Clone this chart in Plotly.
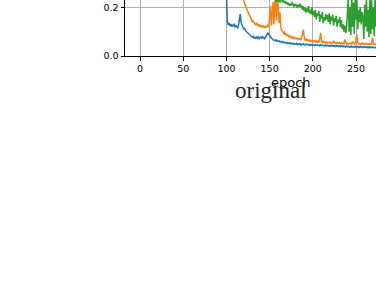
import plotly.graph_objects as go

# ---- data ----
blue_start = 99
blue_vals = [
    0.40, 0.22, 0.14, 0.128, 0.136, 0.124, 0.131, 0.12, 0.128, 0.122,
    0.133, 0.118, 0.126, 0.12, 0.114, 0.128, 0.15, 0.172, 0.138, 0.122,
    0.118, 0.112, 0.114, 0.104, 0.1, 0.097, 0.092, 0.09, 0.086, 0.082,
    0.08, 0.077, 0.081, 0.074, 0.077, 0.072, 0.078, 0.073, 0.08, 0.071,
    0.075, 0.078, 0.072, 0.079, 0.075, 0.071, 0.077, 0.082, 0.088, 0.094,
    0.089, 0.083, 0.077, 0.072, 0.07, 0.067, 0.066, 0.063, 0.066, 0.061,
    0.064, 0.06, 0.062, 0.058, 0.06, 0.056, 0.059, 0.055, 0.057, 0.054,
    0.056, 0.052, 0.055, 0.051, 0.054, 0.05, 0.053, 0.05, 0.052, 0.048,
    0.051, 0.049, 0.052, 0.047, 0.05, 0.048, 0.051, 0.046, 0.049, 0.047,
    0.05, 0.046, 0.048, 0.045, 0.049, 0.046, 0.047, 0.044, 0.048, 0.045,
    0.047, 0.044, 0.046, 0.043, 0.047, 0.044, 0.046, 0.043, 0.045, 0.042,
    0.046, 0.043, 0.045, 0.042, 0.044, 0.041, 0.045, 0.042, 0.044, 0.041,
    0.043, 0.04, 0.044, 0.041, 0.043, 0.04, 0.042, 0.039, 0.043, 0.04,
    0.042, 0.039, 0.041, 0.038, 0.042, 0.039, 0.041, 0.038, 0.04, 0.037,
    0.041, 0.038, 0.04, 0.037, 0.039, 0.036, 0.04, 0.037, 0.039, 0.036,
    0.04, 0.037, 0.039, 0.036, 0.038, 0.035, 0.039, 0.036, 0.038, 0.035,
    0.038, 0.036, 0.038, 0.035, 0.037, 0.034, 0.038, 0.035, 0.037, 0.034,
    0.037, 0.035, 0.036, 0.033, 0.037, 0.034,
]

orange_start = 118
orange_vals = [
    0.40, 0.245, 0.228, 0.215, 0.206, 0.196, 0.188, 0.18, 0.172, 0.166,
    0.156, 0.149, 0.141, 0.144, 0.135, 0.131, 0.128, 0.136, 0.125, 0.131,
    0.12, 0.128, 0.122, 0.117, 0.126, 0.12, 0.114, 0.123, 0.118, 0.121,
    0.13, 0.118, 0.15, 0.205, 0.125, 0.21, 0.222, 0.13, 0.225, 0.218,
    0.145, 0.23, 0.2, 0.135, 0.18, 0.115, 0.105, 0.1, 0.094, 0.098,
    0.088, 0.09, 0.084, 0.087, 0.08, 0.083, 0.077, 0.08, 0.074, 0.078,
    0.072, 0.076, 0.071, 0.074, 0.069, 0.072, 0.068, 0.071, 0.067, 0.075,
    0.09, 0.108, 0.078, 0.066, 0.069, 0.064, 0.067, 0.062, 0.065, 0.061,
    0.064, 0.06, 0.063, 0.059, 0.062, 0.058, 0.061, 0.057, 0.06, 0.056,
    0.072, 0.095, 0.062, 0.057, 0.06, 0.055, 0.058, 0.054, 0.057, 0.053,
    0.056, 0.054, 0.057, 0.052, 0.055, 0.053, 0.062, 0.054, 0.052, 0.055,
    0.051, 0.054, 0.052, 0.055, 0.05, 0.054, 0.051, 0.053, 0.049, 0.068,
    0.052, 0.05, 0.053, 0.049, 0.052, 0.05, 0.053, 0.049, 0.058, 0.051,
    0.049, 0.052, 0.065, 0.088, 0.055, 0.05, 0.052, 0.048, 0.051, 0.049,
    0.053, 0.048, 0.051, 0.049, 0.052, 0.048, 0.05, 0.047, 0.051, 0.048,
    0.05, 0.076, 0.05, 0.047, 0.05, 0.048, 0.051,
]

green_start = 155
green_vals = [
    0.26, 0.228, 0.222, 0.226, 0.23, 0.224, 0.228, 0.22, 0.226, 0.232,
    0.224, 0.228, 0.218, 0.225, 0.215, 0.222, 0.21, 0.218, 0.205, 0.215,
    0.208, 0.22, 0.212, 0.2, 0.215, 0.205, 0.212, 0.198, 0.21, 0.202,
    0.215, 0.2, 0.208, 0.19, 0.205, 0.185, 0.2, 0.178, 0.195, 0.182,
    0.205, 0.175, 0.19, 0.172, 0.2, 0.168, 0.185, 0.16, 0.19, 0.15,
    0.175, 0.165, 0.185, 0.14, 0.17, 0.155, 0.18, 0.135, 0.16, 0.145,
    0.172, 0.15, 0.168, 0.14, 0.175, 0.13, 0.162, 0.145, 0.17, 0.125,
    0.155, 0.14, 0.165, 0.12, 0.15, 0.135, 0.16, 0.118, 0.148, 0.11,
    0.13, 0.1, 0.125, 0.095, 0.115, 0.16, 0.24, 0.1, 0.2, 0.085,
    0.25, 0.12, 0.22, 0.09, 0.24, 0.15, 0.23, 0.11, 0.19, 0.14,
    0.2, 0.13, 0.18, 0.16, 0.07, 0.21, 0.12, 0.24, 0.1, 0.19,
    0.077, 0.23, 0.09, 0.24, 0.11, 0.2, 0.08, 0.25, 0.12, 0.22,
]

x_ticks = [0, 50, 100, 150, 200, 250]
y_ticks = [0.0, 0.2]
y_tick_text = ["0.0", "0.2"]

series = [
    ("blue", blue_start, blue_vals, "#1f77b4"),
    ("orange", orange_start, orange_vals, "#ff7f0e"),
    ("green", green_start, green_vals, "#2ca02c"),
]

fig = go.Figure()
for name, start, vals, color in series:
    fig.add_trace(go.Scatter(
        x=list(range(start, start + len(vals))), y=vals, mode="lines",
        line=dict(color=color, width=1.5), name=name, showlegend=False,
    ))

axis_common = dict(
    showgrid=True, gridcolor="#b0b0b0", gridwidth=0.8,
    zeroline=False, showline=True, linecolor="black", linewidth=1,
    ticks="outside", ticklen=3.5, tickwidth=0.8, tickcolor="black",
    tickfont=dict(family="DejaVu Sans", size=9.5, color="black"),
    automargin=False,
)

fig.update_layout(
    width=376, height=300,
    margin=dict(l=125, r=0, t=0, b=244, pad=0),
    paper_bgcolor="white", plot_bgcolor="white",
    xaxis=dict(range=[-17.4, 273.1], tickvals=x_ticks, **axis_common),
    yaxis=dict(range=[0, 0.2300], tickvals=y_ticks, ticktext=y_tick_text, **axis_common),
    annotations=[
        dict(text="epoch", xref="paper", yref="paper", x=0.661, y=-0.48,
             xanchor="center", yanchor="middle", showarrow=False,
             font=dict(family="DejaVu Sans", size=13, color="black")),
        dict(text="original", xref="paper", yref="paper", x=0.582, y=-0.62,
             xanchor="center", yanchor="middle", showarrow=False,
             font=dict(family="Liberation Serif", size=23, color="#222222")),
    ],
)

fig.write_html(
    "out.html",
    config={"displayModeBar": False},
    post_script="document.body.style.margin='0';document.body.style.overflow='hidden';",
)
